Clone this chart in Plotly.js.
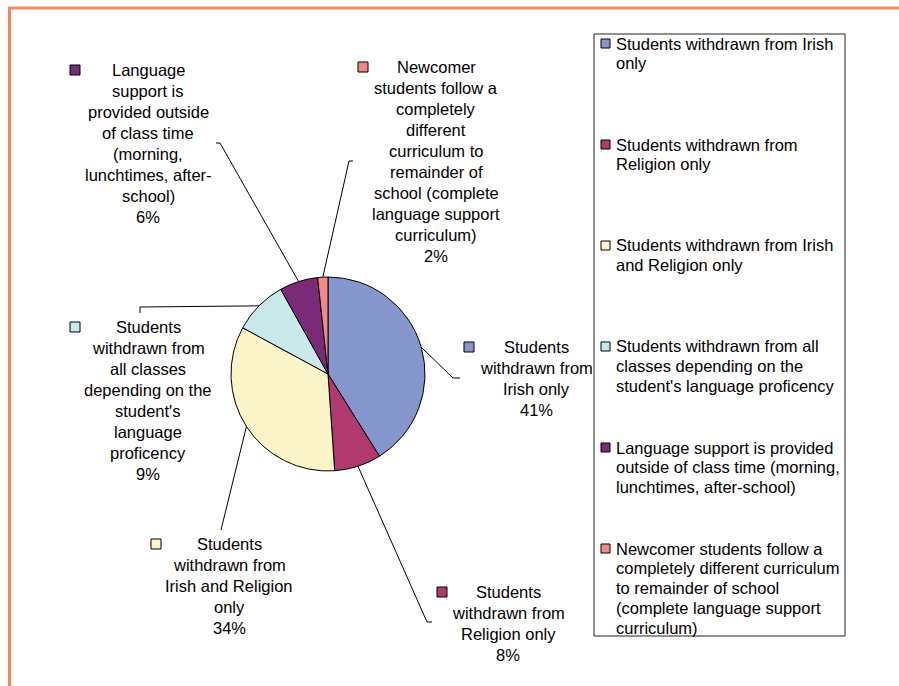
<!DOCTYPE html>
<html>
<head>
<meta charset="utf-8">
<script src="https://cdn.plot.ly/plotly-3.0.1.min.js"></script>
<style>html,body{margin:0;padding:0;background:#fff;}#chart{width:899px;height:686px;}</style>
</head>
<body>
<div id="chart"></div>
<script>
// ---- data ----
const categories = [
  "Students withdrawn from Irish only",
  "Students withdrawn from Religion only",
  "Students withdrawn from Irish and Religion only",
  "Students withdrawn from all classes depending on the student's language proficency",
  "Language support is provided outside of class time (morning, lunchtimes, after-school)",
  "Newcomer students follow a completely different curriculum to remainder of school (complete language support curriculum)"
];
const values = [41.1, 7.8, 34.0, 9.0, 6.4, 1.7];
const colors = ["#8596CC", "#B03A6E", "#FAF4C8", "#C8E8EA", "#7B2A78", "#F08A85"];
// wrapped text of the data labels (percent added from values)
const labelLines = [
  ["Students", "withdrawn from", "Irish only"],
  ["Students", "withdrawn from", "Religion only"],
  ["Students", "withdrawn from", "Irish and Religion", "only"],
  ["Students", "withdrawn from", "all classes", "depending on the", "student's", "language", "proficency"],
  ["Language", "support is", "provided outside", "of class time", "(morning,", "lunchtimes, after-", "school)"],
  ["Newcomer", "students follow a", "completely", "different", "curriculum to", "remainder of", "school (complete", "language support", "curriculum)"]
];
// wrapped text of the legend entries
const legendLines = [
  ["Students withdrawn from Irish", "only"],
  ["Students withdrawn from", "Religion only"],
  ["Students withdrawn from Irish", "and Religion only"],
  ["Students withdrawn from all", "classes depending on the", "student's language proficency"],
  ["Language support is provided", "outside of class time (morning,", "lunchtimes, after-school)"],
  ["Newcomer students follow a", "completely different curriculum", "to remainder of school", "(complete language support", "curriculum)"]
];

// ---- layout (pixels) ----
const W = 899, H = 686;
const CX = 328, CY = 374, R = 97;
const FONT = "Arial, 'Liberation Sans', sans-serif";
const FS = 16.5;
const LABEL_LH = 21, LEGEND_LH = 19.8;
// label placement: square left x, first line center y, text center x, leader elbow & end
const labelPos = [
  {sq: 464, y: 347, tx: 536, elbow: [453, 378], end: [460, 378]},
  {sq: 437, y: 592, tx: 508, elbow: [427, 622], end: [432, 622]},
  {sq: 151, y: 544, tx: 229, elbow: [221, 530], end: [221, 530]},
  {sq: 70,  y: 327, tx: 148, elbow: [140, 307], end: [140, 313]},
  {sq: 70,  y: 70,  tx: 148, elbow: [220, 143], end: [216, 143]},
  {sq: 358, y: 67,  tx: 436, elbow: [349, 161], end: [353, 161]}
];
const legendBox = {x0: 594, y0: 34, x1: 845, y1: 636, sq: 601, tx: 615, first: 43.5, step: 101};

const px = x => x / W;
const py = y => 1 - y / H;

const total = values.reduce((a, b) => a + b, 0);
const shapes = [];
const annotations = [];

function textLine(str, x, y, anchor) {
  annotations.push({xref: "paper", yref: "paper", x: px(x), y: py(y),
    xanchor: anchor, yanchor: "middle", align: anchor, showarrow: false, borderpad: 0,
    text: str, font: {family: FONT, size: FS, color: "#000"}});
}

// orange frame
shapes.push({type: "rect", xref: "paper", yref: "paper", x0: px(9.5), x1: 1.2, y0: -0.2, y1: py(8),
  line: {color: "#F7855F", width: 3}, fillcolor: "rgba(0,0,0,0)", layer: "below"});

let cum = 0;
values.forEach((v, i) => {
  const mid = (cum + v / 2) / total * 2 * Math.PI;
  cum += v;
  const ex = CX + R * Math.sin(mid), ey = CY - R * Math.cos(mid);
  const p = labelPos[i];
  // leader line
  shapes.push({type: "path", xref: "paper", yref: "paper",
    path: `M ${px(ex)} ${py(ey)} L ${px(p.elbow[0])} ${py(p.elbow[1])} L ${px(p.end[0])} ${py(p.end[1])}`,
    line: {color: "#000", width: 1}});
  // key square
  shapes.push({type: "rect", xref: "paper", yref: "paper",
    x0: px(p.sq), x1: px(p.sq + 10), y0: py(p.y - 5), y1: py(p.y + 5),
    fillcolor: colors[i], line: {color: "#000", width: 1}});
  const lines = labelLines[i].concat([Math.round(v / total * 100) + "%"]);
  lines.forEach((s, k) => textLine(s, p.tx, p.y + k * LABEL_LH, "center"));
});

// legend box
shapes.push({type: "rect", xref: "paper", yref: "paper",
  x0: px(legendBox.x0), x1: px(legendBox.x1), y0: py(legendBox.y1), y1: py(legendBox.y0),
  line: {color: "#222", width: 1}, fillcolor: "rgba(0,0,0,0)"});
legendLines.forEach((lines, i) => {
  const y = legendBox.first + i * legendBox.step;
  shapes.push({type: "rect", xref: "paper", yref: "paper",
    x0: px(legendBox.sq), x1: px(legendBox.sq + 9), y0: py(y - 4.5), y1: py(y + 4.5),
    fillcolor: colors[i], line: {color: "#000", width: 1}});
  lines.forEach((s, k) => textLine(s, legendBox.tx, y + k * LEGEND_LH, "left"));
});

const trace = {
  type: "pie",
  labels: categories,
  values: values,
  sort: false,
  direction: "clockwise",
  rotation: 0,
  textinfo: "none",
  hoverinfo: "label+percent",
  marker: {colors: colors, line: {color: "#000", width: 1}},
  domain: {x: [px(CX - R), px(CX + R)], y: [py(CY + R), py(CY - R)]},
  showlegend: false
};

Plotly.newPlot("chart", [trace], {
  width: W, height: H,
  margin: {l: 0, r: 0, t: 0, b: 0},
  paper_bgcolor: "#fff",
  showlegend: false,
  shapes: shapes,
  annotations: annotations,
  font: {family: FONT}
}, {staticPlot: true});
</script>
</body>
</html>
